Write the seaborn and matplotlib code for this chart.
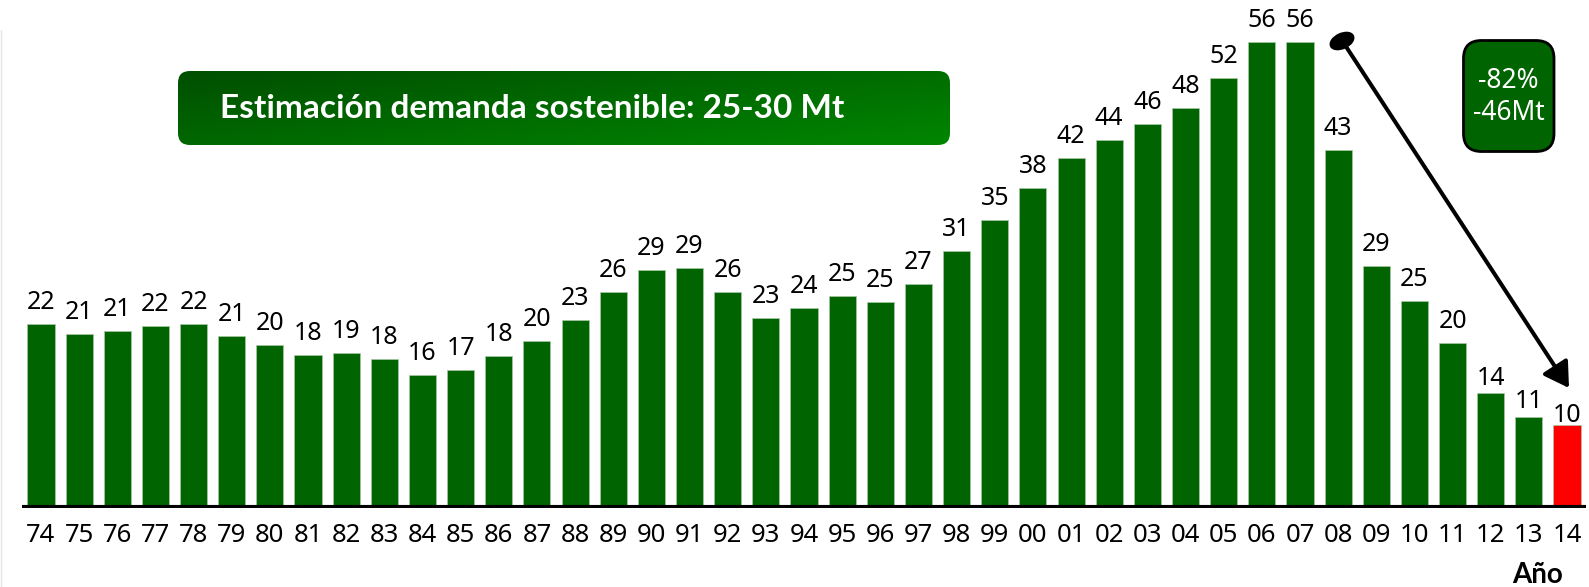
import matplotlib
matplotlib.use("Agg")
import matplotlib.pyplot as plt
import numpy as np
import pandas as pd
import seaborn as sns
from matplotlib.patches import FancyBboxPatch, Ellipse
from matplotlib.colors import LinearSegmentedColormap

# ---------------- data ----------------
years = ["74", "75", "76", "77", "78", "79", "80", "81", "82", "83", "84", "85",
         "86", "87", "88", "89", "90", "91", "92", "93", "94", "95", "96", "97",
         "98", "99", "00", "01", "02", "03", "04", "05", "06", "07", "08", "09",
         "10", "11", "12", "13", "14"]
demand_mt = [22.1, 20.9, 21.3, 21.8, 22.1, 20.6, 19.6, 18.4, 18.6, 17.9, 16.0, 16.6,
             18.2, 20.1, 22.6, 25.9, 28.6, 28.8, 25.9, 22.8, 24.0, 25.4, 24.7, 26.9,
             30.9, 34.6, 38.4, 42.0, 44.2, 46.1, 48.0, 51.6, 56.0, 56.0, 43.0, 29.0,
             24.9, 19.8, 13.8, 10.9, 10.0]
value_labels = [f"{v:.0f}" for v in demand_mt]
highlight_year = "14"
title_text = "Estimación demanda sostenible: 25-30 Mt"
drop_text = "-82%\n-46Mt"
axis_label = "Año"

# ---------------- style ----------------
sns.set_style("white")
plt.rcParams["font.family"] = ["Noto Sans", "DejaVu Sans"]

W, H = 1589, 587
DPI = 100
fig = plt.figure(figsize=(W / DPI, H / DPI), dpi=DPI)

GREEN = "#006400"
RED = "#ff0000"

# main axes placed in pixel terms
x_left, x_right = 21.9, 1586.1
y_zero, px_per_unit = 508.0, 8.33
ymax = 60
ax = fig.add_axes([x_left / W, (H - y_zero) / H, (x_right - x_left) / W,
                   ymax * px_per_unit / H])

df = pd.DataFrame({"year": years, "demand": demand_mt})
palette = {y: (RED if y == highlight_year else GREEN) for y in years}
sns.barplot(data=df, x="year", y="demand", hue="year", palette=palette,
            legend=False, width=0.71, saturation=1, ax=ax,
            edgecolor="#a8c8a8", linewidth=0.5)

ax.set_xlim(-0.5, len(years) - 0.5)
ax.set_ylim(0, ymax)
ax.axhline(0, color="black", lw=4.4, zorder=5, solid_capstyle="butt")
sns.despine(ax=ax, left=True, bottom=True)
ax.set_yticks([])
ax.set_xlabel("")
ax.set_ylabel("")
ax.tick_params(axis="x", length=0, pad=11, labelsize=18.5, colors="black")
ax.set_xticks(range(len(years)))
ax.set_xticklabels(years)

# value labels
gap_px = {"12": 8, "13": 9, "14": 3}
for i, (yr, v, lab) in enumerate(zip(years, demand_mt, value_labels)):
    g = gap_px.get(yr, 15) * 72 / DPI
    ax.annotate(lab, (i, v), xytext=(0, g), textcoords="offset points",
                ha="center", va="baseline", fontsize=18, color="black")

# ---------------- overlay annotations (pixel space) ----------------
ov = fig.add_axes([0, 0, 1, 1], zorder=10)
ov.set_xlim(0, W)
ov.set_ylim(H, 0)
ov.axis("off")
ov.patch.set_alpha(0)

# faint slide border at left
ov.plot([0.8, 0.8], [30, H], color="#e6e6e6", lw=1)

# gradient title box
bx, by, bw, bh = 178, 71, 772, 74
box = FancyBboxPatch((bx, by), bw, bh, boxstyle="round,pad=0,rounding_size=12",
                     facecolor="none", edgecolor="none")
ov.add_patch(box)
gx, gy = np.meshgrid(np.linspace(0, 1, 300), np.linspace(0, 1, 60))
grad = 0.55 * gx + 0.45 * gy
cmap = LinearSegmentedColormap.from_list("g", ["#004f00", "#008600"])
im = ov.imshow(grad, cmap=cmap, extent=(bx, bx + bw, by + bh, by),
               aspect="auto", origin="upper", zorder=1)
im.set_clip_path(box)
ov.text(220, 109, title_text, ha="left", va="center", color="white",
        fontsize=24, fontweight="bold", family=["Lato", "DejaVu Sans"], zorder=3)

# small result box
sb = FancyBboxPatch((1463.5, 40.5), 90.5, 111, boxstyle="round,pad=0,rounding_size=18",
                    facecolor="#006400", edgecolor="black", lw=2, zorder=3)
ov.add_patch(sb)
ov.text(1508.5, 97, drop_text, ha="center", va="center", color="white",
        fontsize=19, linespacing=1.15, zorder=4)

# arrow with oval tail
ov.annotate("", xy=(1569, 388), xytext=(1345, 45),
            arrowprops=dict(arrowstyle="-|>,head_length=0.75,head_width=0.45",
                            lw=2.9, color="black", shrinkA=0, shrinkB=0,
                            mutation_scale=20), zorder=4)
ov.add_patch(Ellipse((1342, 41), 25, 15, angle=-25, color="black", zorder=4))

# axis label
ov.text(1538, 583, axis_label, ha="center", va="baseline", fontsize=20,
        fontweight="bold", family=["Lato", "DejaVu Sans"], color="black")

fig.savefig("out.png", dpi=DPI)
